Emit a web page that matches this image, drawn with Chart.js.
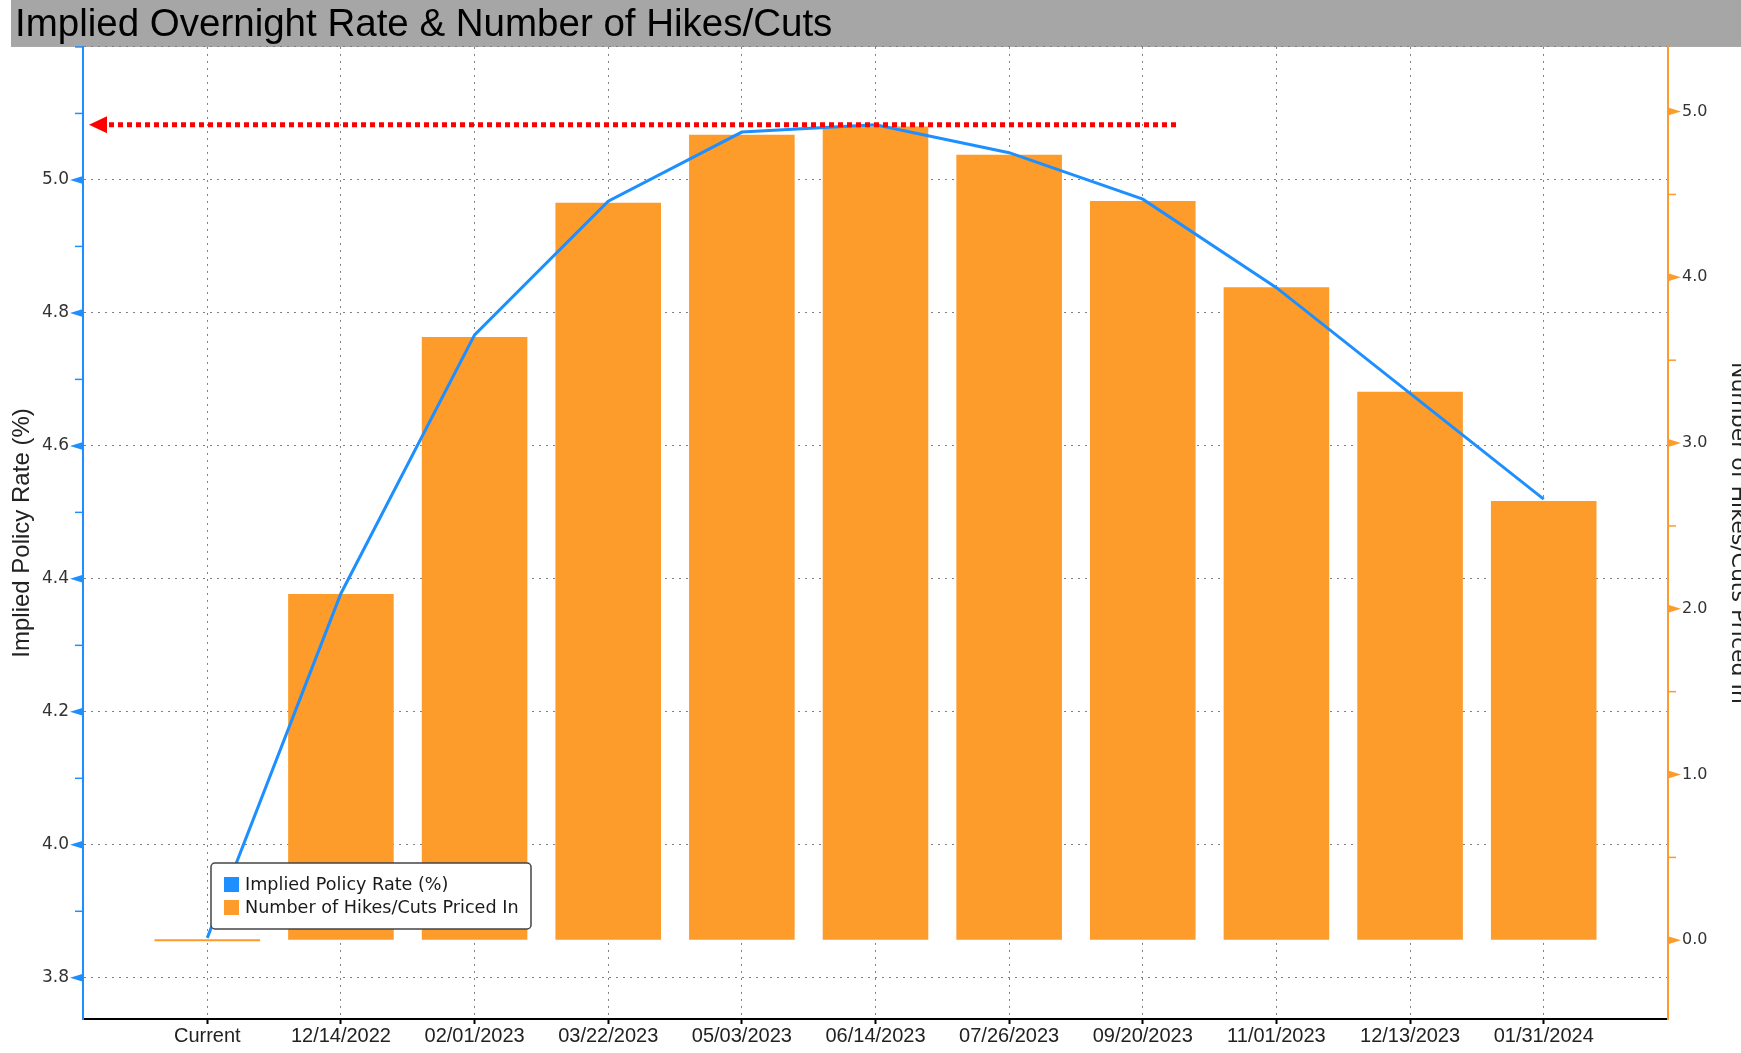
<!DOCTYPE html>
<html lang="en">
<head>
<meta charset="UTF-8">
<title>Implied Overnight Rate &amp; Number of Hikes/Cuts</title>
<script src="https://cdn.jsdelivr.net/npm/chart.js@4.4.0/dist/chart.umd.min.js"></script>
<style>
  html, body {
    margin: 0;
    padding: 0;
    background: #ffffff;
    overflow: hidden;
  }
  #wrap {
    width: 1770px;
    height: 1060px;
    position: relative;
  }
</style>
</head>
<body>
<div id="wrap"><canvas id="ratesChart"></canvas></div>
<script>
  // meeting dates and what is priced in for each
  const meetings = ['Current', '12/14/2022', '02/01/2023', '03/22/2023', '05/03/2023', '06/14/2023',
                    '07/26/2023', '09/20/2023', '11/01/2023', '12/13/2023', '01/31/2024'];
  const policyRate = [3.86, 4.378, 4.767, 4.968, 5.072, 5.083, 5.041, 4.971, 4.838, 4.679, 4.52];
  const hikesPriced = [0, 2.09, 3.64, 4.45, 4.86, 4.91, 4.74, 4.46, 3.94, 3.31, 2.65];

  // axis ticks
  const rateTicks = [3.8, 3.9, 4.0, 4.1, 4.2, 4.3, 4.4, 4.5, 4.6, 4.7, 4.8, 4.9, 5.0, 5.1, 5.2];
  const rateTickLabels = ['3.8', '', '4.0', '', '4.2', '', '4.4', '', '4.6', '', '4.8', '', '5.0', '', ''];
  const hikeTicks = [0, 0.5, 1, 1.5, 2, 2.5, 3, 3.5, 4, 4.5, 5];
  const hikeTickLabels = ['0.0', '', '1.0', '', '2.0', '', '3.0', '', '4.0', '', '5.0'];

  // red arrow: from the left axis at the peak rate, out to past 09/20
  const arrowLevel = policyRate[5];
  const arrowEndIndex = 7.27;

  const BLUE = '#1e8fff';
  const ORANGE = '#fd9b2b';
  const GRID = '#808080';

  const titleBar = {
    id: 'titleBar',
    beforeDraw(chart) {
      const ctx = chart.ctx;
      ctx.save();
      ctx.fillStyle = '#a6a6a6';
      ctx.fillRect(11, 0, chart.width - 11, chart.chartArea.top);
      ctx.restore();
    }
  };

  const axisMarks = {
    id: 'axisMarks',
    afterDraw(chart) {
      const ctx = chart.ctx;
      const left = chart.scales.y;
      const right = chart.scales.y2;
      ctx.save();
      ctx.lineWidth = 1.5;
      ctx.fillStyle = BLUE;
      ctx.strokeStyle = BLUE;
      rateTicks.forEach((v, i) => {
        const py = left.getPixelForValue(v);
        const x0 = left.right;
        if (rateTickLabels[i] !== '') {
          ctx.beginPath();
          ctx.moveTo(x0 - 13, py);
          ctx.lineTo(x0, py - 4);
          ctx.lineTo(x0, py + 4);
          ctx.closePath();
          ctx.fill();
        } else {
          ctx.beginPath();
          ctx.moveTo(x0 - 8, py);
          ctx.lineTo(x0, py);
          ctx.stroke();
        }
      });
      ctx.fillStyle = ORANGE;
      ctx.strokeStyle = ORANGE;
      hikeTicks.forEach((v, i) => {
        const py = right.getPixelForValue(v);
        const x0 = right.left;
        if (hikeTickLabels[i] !== '') {
          ctx.beginPath();
          ctx.moveTo(x0 + 13, py);
          ctx.lineTo(x0, py - 4);
          ctx.lineTo(x0, py + 4);
          ctx.closePath();
          ctx.fill();
        } else {
          ctx.beginPath();
          ctx.moveTo(x0, py);
          ctx.lineTo(x0 + 8, py);
          ctx.stroke();
        }
      });
      ctx.restore();
    }
  };

  const peakArrow = {
    id: 'peakArrow',
    afterDatasetsDraw(chart) {
      const ctx = chart.ctx;
      const y = chart.scales.y.getPixelForValue(arrowLevel);
      const xTip = chart.chartArea.left + 6;
      const xEnd = chart.scales.x.getPixelForValue(arrowEndIndex);
      ctx.save();
      ctx.strokeStyle = '#ff0000';
      ctx.fillStyle = '#ff0000';
      ctx.lineWidth = 5;
      ctx.setLineDash([5, 4]);
      ctx.beginPath();
      ctx.moveTo(xTip + 20, y);
      ctx.lineTo(xEnd, y);
      ctx.stroke();
      ctx.setLineDash([]);
      ctx.beginPath();
      ctx.moveTo(xTip, y);
      ctx.lineTo(xTip + 18, y - 8.5);
      ctx.lineTo(xTip + 18, y + 8.5);
      ctx.closePath();
      ctx.fill();
      ctx.restore();
    }
  };

  // boxed legend sitting inside the plot, bottom left
  const boxLegend = {
    id: 'boxLegend',
    afterDraw(chart) {
      const ctx = chart.ctx;
      const bx = 211, by = 863, bw = 320, bh = 66;
      ctx.save();
      ctx.fillStyle = '#ffffff';
      ctx.strokeStyle = '#444444';
      ctx.lineWidth = 1.5;
      ctx.beginPath();
      ctx.roundRect(bx, by, bw, bh, 4);
      ctx.fill();
      ctx.stroke();
      ctx.font = '17.6px "DejaVu Sans"';
      ctx.textBaseline = 'middle';
      chart.data.datasets.forEach((ds, i) => {
        const cy = by + 22 + i * 23;
        ctx.fillStyle = ds.backgroundColor;
        ctx.fillRect(bx + 13, cy - 8, 15, 15);
        ctx.fillStyle = '#1a1a1a';
        ctx.fillText(ds.label, bx + 34, cy);
      });
      ctx.restore();
    }
  };

  const ctx = document.getElementById('ratesChart').getContext('2d');
  const ratesChart = new Chart(ctx, {
    type: 'bar',
    data: {
      datasets: [{
        type: 'line',
        label: 'Implied Policy Rate (%)',
        data: meetings.map((m, i) => ({ x: i, y: policyRate[i] })),
        yAxisID: 'y',
        borderColor: BLUE,
        backgroundColor: BLUE,
        borderWidth: 3,
        pointRadius: 0,
        tension: 0,
        order: 0
      }, {
        type: 'bar',
        label: 'Number of Hikes/Cuts Priced In',
        data: meetings.map((m, i) => ({ x: i, y: hikesPriced[i] })),
        yAxisID: 'y2',
        backgroundColor: ORANGE,
        borderWidth: 0,
        barPercentage: 0.79,
        categoryPercentage: 1,
        minBarLength: 2,
        order: 1
      }]
    },
    options: {
      responsive: true,
      maintainAspectRatio: false,
      devicePixelRatio: 1,
      animation: false,
      layout: { padding: { left: 15, right: 0, top: 0, bottom: 0 } },
      plugins: {
        legend: { display: false },
        tooltip: { enabled: false },
        title: {
          display: true,
          text: 'Implied Overnight Rate & Number of Hikes/Cuts',
          align: 'start',
          color: '#000000',
          font: { family: 'Liberation Sans', size: 38.5, weight: 'normal', lineHeight: 1.1 },
          padding: { top: 4, bottom: 0.6 }
        }
      },
      scales: {
        x: {
          type: 'linear',
          position: 'bottom',
          min: -0.93,
          max: 10.93,
          offset: false,
          afterBuildTicks: s => { s.ticks = meetings.map((m, i) => ({ value: i })); },
          afterFit: s => { s.height = 41; },
          ticks: {
            callback: (v, i) => meetings[i],
            autoSkip: false,
            maxRotation: 0,
            padding: 0,
            color: '#222222',
            font: { family: 'Liberation Sans', size: 20 }
          },
          grid: {
            offset: false,
            color: GRID,
            lineWidth: 1,
            tickLength: 5,
            tickWidth: 2,
            tickColor: '#000000',
            tickBorderDash: []
          },
          border: { color: '#000000', width: 2, dash: [2, 5] }
        },
        y: {
          type: 'linear',
          position: 'left',
          min: 3.738,
          max: 5.2,
          afterBuildTicks: s => { s.ticks = rateTicks.map(v => ({ value: v })); },
          afterFit: s => { s.width = 68; },
          ticks: {
            callback: (v, i) => rateTickLabels[i],
            autoSkip: false,
            padding: 1,
            color: '#333333',
            font: { family: 'DejaVu Sans', size: 17 }
          },
          grid: {
            color: c => (Math.round(c.tick.value * 10) % 2 === 0 ? GRID : 'transparent'),
            lineWidth: 1,
            tickLength: 13,
            tickColor: 'transparent'
          },
          border: { color: BLUE, width: 2, dash: [2, 5] },
          title: {
            display: true,
            text: 'Implied Policy Rate (%)',
            color: '#222222',
            font: { family: 'Liberation Sans', size: 24 },
            padding: { top: -7, bottom: 0 }
          }
        },
        y2: {
          type: 'linear',
          position: 'right',
          min: -0.475,
          max: 5.39,
          afterBuildTicks: s => { s.ticks = hikeTicks.map(v => ({ value: v })); },
          afterFit: s => { s.width = 102; },
          ticks: {
            callback: (v, i) => hikeTickLabels[i],
            autoSkip: false,
            padding: 1,
            color: '#333333',
            font: { family: 'DejaVu Sans', size: 16 }
          },
          grid: {
            drawOnChartArea: false,
            tickLength: 13,
            tickColor: 'transparent'
          },
          border: { color: ORANGE, width: 2 },
          title: {
            display: true,
            text: 'Number of Hikes/Cuts Priced In',
            color: '#222222',
            font: { family: 'DejaVu Sans', size: 22 },
            padding: { top: 19, bottom: 0 }
          }
        }
      }
    },
    plugins: [titleBar, axisMarks, peakArrow, boxLegend]
  });
</script>
</body>
</html>
